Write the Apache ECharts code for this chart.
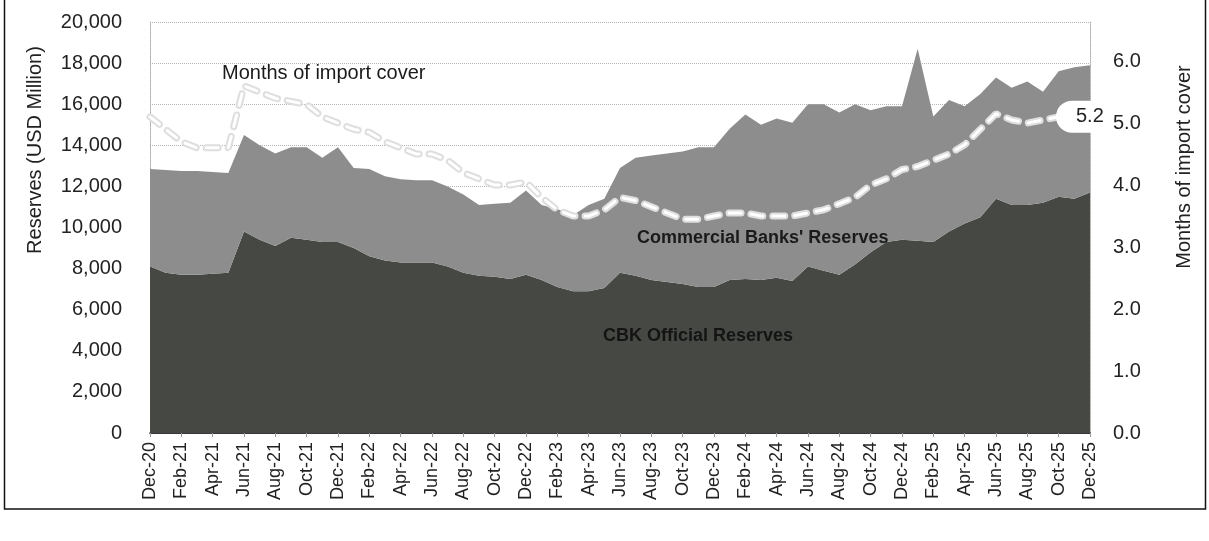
<!DOCTYPE html>
<html>
<head>
<meta charset="utf-8">
<script src="https://cdn.jsdelivr.net/npm/echarts@6/dist/echarts.min.js"></script>
<style>
  html, body { margin: 0; padding: 0; background: #fff; }
  #chart { width: 1209px; height: 541px; }
</style>
</head>
<body>
<div id="chart"></div>
<script>
// months Dec-20 .. Dec-25
const months = [
  'Dec-20', 'Jan-21', 'Feb-21', 'Mar-21', 'Apr-21', 'May-21', 'Jun-21', 'Jul-21', 'Aug-21', 'Sep-21', 'Oct-21', 'Nov-21',
  'Dec-21', 'Jan-22', 'Feb-22', 'Mar-22', 'Apr-22', 'May-22', 'Jun-22', 'Jul-22', 'Aug-22', 'Sep-22', 'Oct-22', 'Nov-22',
  'Dec-22', 'Jan-23', 'Feb-23', 'Mar-23', 'Apr-23', 'May-23', 'Jun-23', 'Jul-23', 'Aug-23', 'Sep-23', 'Oct-23', 'Nov-23',
  'Dec-23', 'Jan-24', 'Feb-24', 'Mar-24', 'Apr-24', 'May-24', 'Jun-24', 'Jul-24', 'Aug-24', 'Sep-24', 'Oct-24', 'Nov-24',
  'Dec-24', 'Jan-25', 'Feb-25', 'Mar-25', 'Apr-25', 'May-25', 'Jun-25', 'Jul-25', 'Aug-25', 'Sep-25', 'Oct-25', 'Nov-25',
  'Dec-25'
]

// USD million
const cbkReserves = [
  8100, 7800, 7700, 7700, 7750, 7800, 9800, 9400, 9100, 9500, 9400, 9300,
  9300, 9000, 8600, 8400, 8300, 8300, 8300, 8100, 7800, 7650, 7600, 7500,
  7700, 7450, 7100, 6900, 6900, 7050, 7800, 7650, 7450, 7350, 7250, 7100,
  7100, 7450, 7500, 7450, 7550, 7400, 8100, 7900, 7700, 8200, 8800, 9300,
  9400, 9350, 9300, 9800, 10200, 10500, 11400, 11100, 11100, 11200, 11500, 11400,
  11700
]

const bankReserves = [
  4750, 5000, 5050, 5050, 4950, 4850, 4700, 4600, 4500, 4400, 4500, 4100,
  4600, 3900, 4250, 4100, 4050, 4000, 4000, 3900, 3800, 3450, 3550, 3700,
  4100, 3650, 3800, 3700, 4200, 4350, 5100, 5750, 6050, 6250, 6450, 6800,
  6800, 7350, 8000, 7550, 7750, 7700, 7900, 8100, 7900, 7800, 6900, 6600,
  6500, 9350, 6100, 6400, 5700, 6000, 5900, 5700, 6000, 5400, 6100, 6400,
  6200
]

const importCover = [
  5.1, 4.9, 4.7, 4.6, 4.6, 4.6, 5.6, 5.5, 5.4, 5.35, 5.3, 5.1,
  5.0, 4.9, 4.85, 4.7, 4.6, 4.5, 4.5, 4.4, 4.2, 4.1, 4.0, 4.0,
  4.05, 3.8, 3.6, 3.5, 3.5, 3.6, 3.8, 3.75, 3.65, 3.55, 3.45, 3.45,
  3.5, 3.55, 3.55, 3.5, 3.5, 3.5, 3.55, 3.6, 3.7, 3.8, 4.0, 4.1,
  4.25, 4.3, 4.4, 4.5, 4.65, 4.9, 5.15, 5.05, 5.0, 5.05, 5.1, 5.15,
  5.2
]

const FONT = '"Liberation Sans", Arial, sans-serif'
const dash = [12, 10]

const chart = echarts.init(document.getElementById('chart'))

chart.setOption({
  animation: false,
  backgroundColor: '#fff',
  textStyle: { fontFamily: FONT },
  grid: { left: 150, right: 119, top: 22, bottom: 108 },
  xAxis: [{
    type: 'category',
    data: months,
    boundaryGap: false,
    axisLine: { lineStyle: { color: '#999', type: 'dotted' } },
    axisTick: { show: true, interval: 1, length: 4, lineStyle: { color: '#999' } },
    axisLabel: {
      interval: 1,
      rotate: 90,
      margin: 9,
      fontSize: 18,
      color: '#222',
      fontFamily: FONT
    }
  }, {
    // black rule across the top of the plot
    type: 'category',
    data: months,
    position: 'top',
    boundaryGap: false,
    axisLine: { lineStyle: { color: '#111', width: 1.5 } },
    axisTick: { show: false },
    axisLabel: { show: false }
  }],
  yAxis: [{
    type: 'value',
    min: 0,
    max: 20000,
    interval: 2000,
    axisLine: { show: true, lineStyle: { color: '#aaa', type: 'dotted' } },
    axisTick: { show: false },
    splitLine: { lineStyle: { color: '#b5b5b5', type: 'dotted' } },
    axisLabel: {
      margin: 28,
      fontSize: 20,
      color: '#222',
      fontFamily: FONT,
      formatter: v => v.toLocaleString('en-US')
    }
  }, {
    type: 'value',
    min: 0,
    max: 6.63,
    interval: 1,
    axisLine: { show: true, lineStyle: { color: '#aaa', type: 'dotted' } },
    axisTick: { show: false },
    splitLine: { show: false },
    axisLabel: {
      margin: 23,
      fontSize: 20,
      color: '#222',
      fontFamily: FONT,
      showMaxLabel: false,
      formatter: v => v.toFixed(1)
    }
  }],
  series: [{
    name: 'CBK Official Reserves',
    type: 'line',
    stack: 'reserves',
    data: cbkReserves,
    showSymbol: false,
    lineStyle: { width: 0 },
    areaStyle: { color: '#464943', opacity: 1 }
  }, {
    name: "Commercial Banks' Reserves",
    type: 'line',
    stack: 'reserves',
    data: bankReserves,
    showSymbol: false,
    lineStyle: { width: 0 },
    areaStyle: { color: '#8d8d8d', opacity: 1 }
  }, {
    // pale halo under the dashes
    name: 'cover-halo',
    type: 'line',
    yAxisIndex: 1,
    data: importCover,
    showSymbol: false,
    silent: true,
    lineStyle: { color: '#dedede', width: 7, type: dash, cap: 'round' }
  }, {
    name: 'Months of import cover',
    type: 'line',
    yAxisIndex: 1,
    data: importCover,
    showSymbol: false,
    lineStyle: { color: '#fff', width: 3, type: dash, cap: 'round' },
    endLabel: {
      show: true,
      formatter: p => p.value.toFixed(1),
      fontSize: 20,
      color: '#222',
      fontFamily: FONT,
      backgroundColor: '#fff',
      borderRadius: 16,
      padding: [6, 4, 6, 20],
      offset: [-42, 6]
    }
  }],
  graphic: [
    {
      type: 'text', x: 222, y: 73, z: 100,
      style: { text: 'Months of import cover', font: '20px ' + FONT, fill: '#1a1a1a', textVerticalAlign: 'middle' }
    },
    {
      type: 'text', x: 637, y: 238, z: 100,
      style: { text: "Commercial Banks' Reserves", font: 'bold 18px ' + FONT, fill: '#1a1a1a', textVerticalAlign: 'middle' }
    },
    {
      type: 'text', x: 603, y: 336, z: 100,
      style: { text: 'CBK Official Reserves', font: 'bold 18px ' + FONT, fill: '#141414', textVerticalAlign: 'middle' }
    },
    {
      type: 'text', x: 35, y: 150, rotation: Math.PI / 2,
      style: { text: 'Reserves (USD Million)', font: '20px ' + FONT, fill: '#222', textAlign: 'center', textVerticalAlign: 'middle' }
    },
    {
      type: 'text', x: 1184, y: 167, rotation: Math.PI / 2,
      style: { text: 'Months of import cover', font: '20px ' + FONT, fill: '#222', textAlign: 'center', textVerticalAlign: 'middle' }
    },
    {
      // frame round the figure
      type: 'rect',
      z: 100,
      shape: { x: 4.5, y: -2, width: 1201, height: 511 },
      style: { fill: 'none', stroke: '#111', lineWidth: 1.5 }
    }
  ]
})
</script>
</body>
</html>
